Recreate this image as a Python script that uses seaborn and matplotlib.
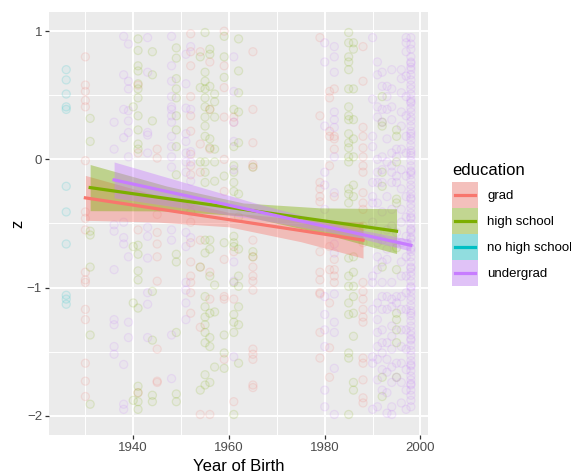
import matplotlib
matplotlib.use("Agg")
import matplotlib.pyplot as plt
from matplotlib.patches import Rectangle
from matplotlib.lines import Line2D
from matplotlib.legend_handler import HandlerBase
import numpy as np
import pandas as pd
import seaborn as sns

# ---------------- data ----------------
education_levels = ["grad", "high school", "no high school", "undergrad"]
palette_colors = ["#F8766D", "#7CAE00", "#00BFC4", "#C77CFF"]

grad_points = {
    1930: [0.80, 0.58, 0.53, 0.46, 0.41, -0.01, -0.41, -0.46, -0.55, -0.88, -0.94, -0.96, -1.17, -1.25, -1.59, -1.73, -1.85],
    1941: [0.58, 0.05, -0.55, -1.82],
    1945: [0.08, 0.01, -0.43, -0.57, -0.66, -0.76, -0.95, -1.48, -1.73, -1.74],
    1952: [0.98, 0.84, 0.73, 0.49, 0.34, 0.22, 0.04, -0.05, -0.12, -0.34, -0.41, -0.49, -0.65, -0.80, -0.91, -0.96, -1.04, -1.20],
    1954: [0.84, 0.12, -0.10, -0.63, -0.84, -1.31, -1.99],
    1956: [0.76, 0.39, 0.08, -0.88, -1.09, -1.99],
    1959: [1.00, 0.73, 0.56, 0.33, 0.00, -0.25, -0.78, -1.07, -1.09, -1.56],
    1961: [0.33, 0.29, -0.72, -1.09, -1.89],
    1965: [0.84, 0.39, 0.13, -0.04, -0.06, -0.63, -0.76, -0.84, -0.91, -0.95, -1.02, -1.48, -1.52, -1.56, -1.76, -1.78],
    1979: [0.95, 0.34, -0.18, -0.23, -0.29, -0.33, -0.72, -0.88, -0.94, -1.04, -1.05, -1.35, -1.55],
    1981: [0.53, 0.48, 0.22, 0.18, -0.05, -0.68, -0.86, -1.12, -1.47, -1.70],
    1982: [0.55, 0.18, 0.16, 0.08, -0.29, -0.78, -0.86, -0.91, -0.96],
    1988: [0.88, 0.61, 0.25, 0.18, 0.09, 0.02, -0.05, -0.10, -0.26, -0.34, -0.39, -0.52, -0.65, -0.96, -1.03, -1.09, -1.17, -1.23, -1.27, -1.55, -1.59, -1.72, -1.86, -1.90],
}

high_school_points = {
    1931: [0.32, 0.14, -0.56, -0.59, -0.84, -1.37, -1.91],
    1940: [0.41, -0.68, -1.12, -1.88],
    1941: [0.94, 0.85, 0.73, 0.69, 0.59, 0.55, 0.48, 0.34, 0.23, 0.12, 0.08, -0.67, -0.74, -0.87, -0.94, -1.16, -1.77, -1.82, -1.89, -1.95],
    1944: [0.84, 0.66, 0.30, -1.03, -1.41, -1.84, -1.89],
    1949: [0.87, 0.79, 0.63, 0.55, 0.48, 0.34, 0.23, 0.10, -0.12, -0.74, -0.80, -1.35, -1.83, -1.89],
    1954: [0.80, 0.56, -0.02, -0.84, -1.80],
    1955: [0.99, 0.68, 0.61, 0.55, 0.48, 0.41, 0.33, 0.26, 0.18, -0.02, -0.10, -0.18, -0.63, -0.73, -1.07, -1.15, -1.23, -1.29, -1.35, -1.43, -1.68, -1.76],
    1956: [0.86, 0.82, 0.57, 0.39, 0.16, 0.09, -0.63, -0.70, -0.91, -1.20, -1.39, -1.46, -1.74],
    1957: [0.51, 0.45, 0.33, 0.08, -0.02, -0.17, -0.98, -1.19, -1.62],
    1959: [0.96, 0.80, 0.64, -0.13, -0.65, -1.37, -1.51, -1.63],
    1961: [0.39, 0.10, -0.05, -0.10, -0.18, -0.25, -0.60, -0.65, -0.68, -0.96, -1.21, -1.27, -1.35, -1.99],
    1962: [0.94, 0.69, 0.52, 0.37, 0.13, -0.27, -0.45, -0.70, -0.91, -0.99, -1.15, -1.29, -1.59],
    1965: [-0.06, -0.72, -0.76],
    1985: [0.99, 0.91, 0.80, 0.76, 0.70, 0.55, 0.41, 0.34, 0.31, 0.20, 0.13, 0.09, 0.02, -0.02, -0.23, -0.27, -0.34, -0.77, -0.91, -0.99, -1.12, -1.21, -1.51, -1.55, -1.99],
    1986: [0.91, 0.86, 0.55, 0.31, 0.16, 0.02, -0.20, -0.29, -0.76, -0.88, -0.99, -1.07, -1.20, -1.38, -1.74, -1.80],
    1992: [0.49, 0.29, 0.26, -0.10, -0.21, -0.84, -1.70, -1.85],
    1995: [0.23, 0.18, -0.02, -0.31, -0.34, -0.69, -0.86, -1.20, -1.25, -1.33, -1.43, -1.70],
}

no_high_school_points = {
    1926: [0.70, 0.62, 0.51, 0.41, 0.39, -0.21, -0.41, -0.66, -1.06, -1.09, -1.13],
}

undergrad_points = {
    1936: [0.29, 0.08, -0.51, -0.56, -0.86, -1.25, -1.29, -1.46, -1.52],
    1938: [0.96, 0.66, 0.39, 0.17, -0.49, -0.61, -0.66, -1.60, -1.91, -1.95],
    1939: [0.90, 0.61, 0.55, 0.38, 0.30, 0.21, 0.02, -0.76, -1.27, -1.39],
    1943: [0.95, 0.68, 0.21, 0.19, 0.05, -0.53, -0.60, -0.77, -1.04, -1.13, -1.39],
    1948: [0.96, 0.73, 0.61, 0.49, 0.41, 0.39, 0.34, 0.29, 0.18, 0.10, 0.02, -0.06, -0.55, -0.63, -1.37, -1.71],
    1951: [0.82, 0.59, 0.40, 0.20, 0.14, 0.05, -0.02, -0.10, -0.57, -0.68, -0.96, -1.02, -1.12, -1.25],
    1952: [0.88, 0.39, 0.06, -0.02, -0.17, -0.61],
    1961: [0.80, 0.53, 0.29, 0.14, -0.08, -0.80, -0.95, -1.54],
    1980: [0.91, 0.76, 0.26, -0.10, -0.20, -0.39, -1.07, -1.21, -1.33, -1.46, -1.80, -1.93],
    1982: [0.88, 0.80, 0.68, 0.37, 0.31, 0.25, 0.02, -0.26, -0.66, -0.73, -1.05, -1.27, -1.35, -1.63, -1.99],
    1990: [0.95, 0.47, 0.18, 0.10, -0.18, -0.29, -0.34, -0.49, -0.91, -0.96, -1.17, -1.54, -1.59, -1.95],
    1991: [0.76, 0.66, 0.41, 0.33, 0.00, -0.10, -0.18, -0.34, -0.57, -0.65, -0.76, -0.86, -1.12, -1.25, -1.35, -1.46, -1.56, -1.72, -1.93],
    1992: [0.68, 0.57, 0.39, 0.29, 0.02, -0.08, -0.18, -0.41, -0.63, -0.80, -0.96, -1.07, -1.17, -1.33, -1.43, -1.51, -1.64, -1.80],
    1993: [0.57, 0.49, 0.39, 0.16, -0.02, -0.29, -0.55, -0.70, -0.78, -1.07, -1.17, -1.43, -1.56, -1.66, -1.82, -1.98],
    1994: [0.70, 0.55, 0.41, 0.31, 0.05, -0.05, -0.10, -0.18, -0.39, -0.52, -0.96, -1.09, -1.15, -1.30, -1.38, -1.48, -1.62, -1.74, -1.93, -1.99],
    1995: [0.08, 0.02, -0.13, -0.18, -0.57, -0.65, -1.07, -1.12, -1.59, -1.70],
    1996: [0.70, 0.63, 0.52, 0.37, 0.26, 0.08, -0.08, -0.23, -0.39, -0.49, -0.65, -0.80, -0.91, -1.07, -1.17, -1.33, -1.46, -1.59, -1.74, -1.90],
    1997: [0.95, 0.91, 0.84, 0.65, 0.49, 0.34, 0.18, 0.05, -0.13, -0.29, -0.45, -0.60, -0.76, -0.91, -1.04, -1.17, -1.33, -1.48, -1.64, -1.80, -1.95],
    1998: [0.95, 0.90, 0.86, 0.80, 0.76, 0.72, 0.70, 0.66, 0.62, 0.58, 0.55, 0.51, 0.47, 0.44, 0.40, 0.37,
           0.33, 0.30, 0.26, 0.22, 0.18, 0.15, 0.11, 0.07, 0.03, -0.01, -0.05, -0.09, -0.12, -0.16, -0.20,
           -0.23, -0.27, -0.31, -0.35, -0.38, -0.42, -0.46, -0.50, -0.54, -0.57, -0.61, -0.65, -0.69, -0.72,
           -0.76, -0.80, -0.84, -0.88, -0.91, -0.95, -0.99, -1.03, -1.07, -1.10, -1.14, -1.18, -1.22, -1.26,
           -1.30, -1.34, -1.37, -1.41, -1.45, -1.49, -1.53, -1.57, -1.61, -1.65, -1.69, -1.72, -1.76, -1.80,
           -1.84, -1.88, -1.93,
           0.75, 0.45, 0.20, 0.05, -0.10, -0.30, -0.45, -0.55, -0.62, -0.70, -0.85, -1.00, -1.20, -1.40, -1.60, -1.75],
}

# fitted lines (lm) and their 95% confidence half-widths, read at a few years
grad_fit_year = [1930, 1945, 1960, 1975, 1988]
grad_fit_z = [-0.30, -0.385, -0.47, -0.555, -0.63]
grad_fit_hw = [0.175, 0.104, 0.056, 0.087, 0.14]

hs_fit_year = [1931, 1947, 1963, 1979, 1995]
hs_fit_z = [-0.22, -0.305, -0.39, -0.475, -0.56]
hs_fit_hw = [0.18, 0.097, 0.05, 0.097, 0.175]

ug_fit_year = [1936, 1951, 1966, 1985, 1998]
ug_fit_z = [-0.16, -0.283, -0.407, -0.563, -0.67]
ug_fit_hw = [0.14, 0.10, 0.061, 0.03, 0.045]

x_ticks = [1940, 1960, 1980, 2000]
y_ticks = [-2, -1, 0, 1]

# ---------------- build tables ----------------
rows = []
for name, pts in zip(education_levels,
                     [grad_points, high_school_points, no_high_school_points, undergrad_points]):
    for yr, zs in pts.items():
        for z in zs:
            rows.append((yr, z, name))
points = pd.DataFrame(rows, columns=["year", "z", "education"])

fits = []
for name, xs, zs, hws in [("grad", grad_fit_year, grad_fit_z, grad_fit_hw),
                          ("high school", hs_fit_year, hs_fit_z, hs_fit_hw),
                          ("undergrad", ug_fit_year, ug_fit_z, ug_fit_hw)]:
    for x, z, h in zip(xs, zs, hws):
        fits.append((x, z, z - h, z + h, name))
fit_df = pd.DataFrame(fits, columns=["year", "z", "lo", "hi", "education"])

palette = dict(zip(education_levels, palette_colors))

# ---------------- plot ----------------
plt.rcParams["font.family"] = ["Liberation Sans", "DejaVu Sans"]
fig = plt.figure(figsize=(5.71, 4.74), dpi=100)
ax = fig.add_axes([0.0858, 0.0823, 0.664, 0.8924])
ax.set_facecolor("#EBEBEB")
for s in ax.spines.values():
    s.set_visible(False)

sns.scatterplot(data=points, x="year", y="z", hue="education", palette=palette,
                hue_order=education_levels, s=34, marker="o", linewidth=0.9,
                legend=False, ax=ax, zorder=2)
coll = ax.collections[-1]
fc = np.array(coll.get_facecolors())
ec = fc.copy(); ec[:, 3] = 0.15
fc2 = fc.copy(); fc2[:, 3] = 0.05
coll.set_edgecolors(ec)
coll.set_facecolors(fc2)

for name in ["grad", "high school", "undergrad"]:
    d = fit_df[fit_df.education == name]
    ax.fill_between(d["year"], d["lo"], d["hi"], color=palette[name], alpha=0.4,
                    linewidth=0, zorder=3)
sns.lineplot(data=fit_df, x="year", y="z", hue="education", palette=palette,
             hue_order=["grad", "high school", "undergrad"], linewidth=2.3,
             legend=False, ax=ax, zorder=4, estimator=None, sort=True)

ax.set_xlim(1922.4, 2001.6)
ax.set_ylim(-2.15, 1.15)
ax.set_xticks(x_ticks)
ax.set_yticks(y_ticks)
ax.set_xticks([1930, 1950, 1970, 1990], minor=True)
ax.set_yticks([-1.5, -0.5, 0.5], minor=True)
ax.grid(which="major", color="white", linewidth=1.4)
ax.grid(which="minor", color="white", linewidth=0.7)
ax.set_axisbelow(True)
ax.tick_params(which="major", length=2.8, width=0.9, color="#333333",
               labelcolor="#4D4D4D", labelsize=9.5, pad=2.2)
ax.tick_params(which="minor", length=0)
ax.set_xlabel("Year of Birth", fontsize=12, color="black", labelpad=4)
ax.set_ylabel("z", fontsize=12, color="black", labelpad=1)


class KeyHandler(HandlerBase):
    def create_artists(self, legend, orig_handle, xdescent, ydescent,
                       width, height, fontsize, trans):
        c = orig_handle.get_color()
        bg = Rectangle((-xdescent, -ydescent), width, height, facecolor="#F2F2F2",
                       edgecolor="none", transform=trans)
        r = Rectangle((-xdescent, -ydescent), width, height, facecolor=c,
                      alpha=0.4, edgecolor="none", transform=trans)
        yc = -ydescent + height / 2
        ln = Line2D([-xdescent + 0.1 * width, -xdescent + 0.9 * width], [yc, yc],
                    color=c, linewidth=2.3, transform=trans)
        return [bg, r, ln]


handles = [Line2D([], [], color=palette[n]) for n in education_levels]
leg = fig.legend(handles, education_levels, title="education",
                 handler_map={Line2D: KeyHandler()},
                 loc="upper left", bbox_to_anchor=(452 / 571, 1 - 163 / 474),
                 frameon=False, fontsize=9.5, title_fontsize=12,
                 handlelength=1.97, handleheight=2.654, labelspacing=0.0,
                 handletextpad=0.7, borderpad=0, borderaxespad=0)
leg._legend_box.align = "left"
leg._legend_box.sep = 3

fig.savefig("out.png", dpi=100)
